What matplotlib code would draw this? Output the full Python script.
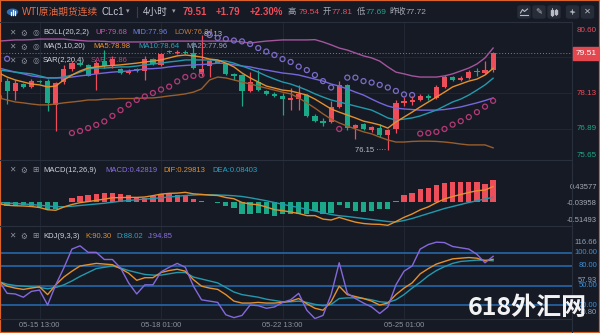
import numpy as np
import matplotlib
matplotlib.use("Agg")
import matplotlib.pyplot as plt
import matplotlib.transforms as mtransforms
from matplotlib.patches import Rectangle, FancyBboxPatch, Circle, FancyArrowPatch

plt.rcParams["font.family"] = ["Liberation Sans", "DejaVu Sans", "Noto Sans CJK SC"]
plt.rcParams["font.size"] = 5.5

# WTI continuous, 4h candles (oldest first)
opens = [78.90, 78.54, 78.20, 78.44, 78.34, 78.55, 78.54, 77.72, 78.50, 78.95,
         79.15, 79.10, 78.80, 79.25, 79.06, 78.95, 78.82, 78.95, 78.88, 79.30,
         79.10, 79.57, 79.50, 79.56, 79.50, 78.80, 79.06, 79.22, 79.12, 78.78,
         78.75, 78.20, 78.50, 78.20, 78.10, 78.03, 77.90, 77.93, 78.06, 77.34,
         77.15, 77.13, 77.65, 78.41, 76.93, 77.06, 76.86, 76.93, 76.68, 76.88,
         77.79, 77.83, 77.89, 78.03, 77.96, 78.34, 78.68, 78.58, 78.65, 78.88,
         78.82, 78.92]
highs = [78.95, 78.65, 78.58, 78.48, 78.62, 78.58, 78.60, 78.50, 79.10, 79.25,
         79.27, 79.14, 79.22, 79.62, 79.40, 79.00, 78.95, 79.00, 79.40, 79.35,
         79.50, 79.62, 79.60, 79.62, 79.90, 80.13, 79.30, 79.27, 79.18, 78.82,
         78.80, 78.85, 78.92, 78.25, 78.15, 78.13, 78.30, 78.40, 78.10, 77.40,
         77.27, 77.85, 78.54, 78.45, 77.05, 77.10, 77.00, 77.06, 76.90, 77.89,
         78.00, 78.03, 78.10, 78.10, 78.40, 78.75, 78.72, 78.72, 78.92, 79.00,
         79.23, 79.54]
lows = [78.40, 77.75, 77.89, 78.30, 78.30, 78.48, 77.51, 76.82, 78.45, 78.90,
        79.05, 78.70, 78.23, 79.00, 79.00, 78.78, 78.78, 78.85, 78.58, 79.10,
        79.05, 79.50, 79.48, 79.48, 78.95, 78.70, 78.68, 79.15, 78.76, 78.58,
        77.68, 78.15, 78.20, 78.05, 77.98, 77.37, 77.54, 77.54, 77.30, 77.12,
        77.00, 77.08, 77.60, 76.85, 76.54, 76.85, 76.80, 76.62, 76.15, 76.75,
        77.68, 77.70, 77.85, 77.90, 77.92, 78.30, 78.55, 78.55, 78.60, 78.72,
        78.78, 78.85]
closes = [78.50, 78.20, 78.47, 78.34, 78.54, 78.52, 77.79, 78.47, 78.95, 79.18,
          79.10, 78.72, 79.18, 79.06, 79.30, 78.82, 78.90, 78.88, 79.30, 79.13,
          79.47, 79.53, 79.56, 79.50, 79.00, 78.95, 79.23, 79.18, 78.78, 78.72,
          78.20, 78.50, 78.25, 78.10, 78.03, 77.93, 77.97, 78.10, 77.34, 77.17,
          77.10, 77.65, 78.41, 76.92, 77.03, 76.90, 76.96, 76.68, 76.85, 77.79,
          77.86, 77.90, 78.03, 77.96, 78.34, 78.68, 78.58, 78.65, 78.85, 78.84,
          78.92, 79.51]
prev_close = 77.72

# BOLL(20,2,2) bands; the middle band is also the MA20
boll_up = [79.92, 79.94, 79.96, 79.96, 79.97, 79.99, 79.99, 79.99, 79.99, 79.96,
           79.94, 79.92, 79.92, 79.91, 79.89, 79.89, 79.89, 79.89, 79.89, 79.89,
           79.91, 79.92, 79.92, 79.92, 79.92, 79.92, 79.92, 79.92, 79.92, 79.92,
           79.89, 79.85, 79.89, 79.92, 79.94, 79.96, 79.96, 79.96, 79.96, 79.97,
           79.89, 79.79, 79.68, 79.61, 79.51, 79.41, 79.34, 79.23, 79.03, 78.85,
           78.79, 78.72, 78.68, 78.68, 78.68, 78.72, 78.79, 78.89, 78.99, 79.13,
           79.34, 79.68]
boll_mid = [78.99, 78.92, 78.85, 78.79, 78.72, 78.68, 78.65, 78.65, 78.65, 78.68,
            78.72, 78.75, 78.79, 78.82, 78.85, 78.87, 78.89, 78.92, 78.96, 78.97,
            78.99, 79.03, 79.06, 79.08, 79.10, 79.11, 79.13, 79.16, 79.15, 79.10,
            79.06, 79.03, 78.97, 78.92, 78.87, 78.82, 78.79, 78.75, 78.68, 78.61,
            78.54, 78.44, 78.37, 78.27, 78.16, 78.06, 77.92, 77.79, 77.68, 77.61,
            77.58, 77.56, 77.54, 77.54, 77.54, 77.56, 77.60, 77.65, 77.72, 77.79,
            77.87, 77.96]
boll_low = [77.96, 77.89, 77.82, 77.79, 77.75, 77.72, 77.72, 77.75, 77.79, 77.82,
            77.85, 77.89, 77.89, 77.92, 77.92, 77.94, 77.94, 77.94, 77.96, 77.96,
            77.99, 78.03, 78.06, 78.10, 78.16, 78.27, 78.58, 78.68, 78.65, 78.58,
            78.51, 78.44, 78.37, 78.30, 78.23, 78.16, 78.10, 77.96, 77.79, 77.61,
            77.41, 77.23, 77.10, 76.99, 76.89, 76.79, 76.72, 76.61, 76.51, 76.44,
            76.44, 76.46, 76.47, 76.47, 76.46, 76.44, 76.41, 76.37, 76.34, 76.34,
            76.34, 76.24]
ma5 = [78.82, 78.68, 78.58, 78.51, 78.44, 78.41, 78.34, 78.37, 78.58, 78.75,
       78.89, 78.99, 79.03, 79.06, 79.08, 79.10, 79.13, 79.16, 79.20, 79.23,
       79.27, 79.34, 79.41, 79.44, 79.41, 79.37, 79.30, 79.27, 79.16, 79.03,
       78.82, 78.65, 78.51, 78.37, 78.30, 78.23, 78.20, 78.13, 78.06, 77.92,
       77.75, 77.58, 77.47, 77.37, 77.27, 77.16, 77.10, 77.03, 76.92, 77.13,
       77.30, 77.47, 77.65, 77.82, 77.99, 78.16, 78.34, 78.44, 78.54, 78.61,
       78.75, 78.98]
ma10 = [78.92, 78.89, 78.85, 78.82, 78.79, 78.72, 78.65, 78.65, 78.68, 78.75,
        78.85, 78.96, 78.99, 78.99, 79.01, 79.03, 79.03, 79.06, 79.10, 79.13,
        79.16, 79.20, 79.23, 79.27, 79.27, 79.27, 79.27, 79.25, 79.23, 79.16,
        79.06, 78.96, 78.85, 78.72, 78.61, 78.51, 78.44, 78.34, 78.23, 78.10,
        77.99, 77.89, 77.82, 77.75, 77.68, 77.61, 77.54, 77.41, 77.27, 77.20,
        77.23, 77.27, 77.34, 77.44, 77.54, 77.68, 77.82, 77.92, 78.06, 78.23,
        78.41, 78.64]
# SAR dots; None where no dot shows
sar = [77.99, 79.31, None, None, None, None, None, None, None, 76.75,
       76.82, 76.92, 77.03, 77.15, 77.34, 77.54, 77.73, 77.89, 78.01, 78.13,
       78.25, 78.35, 78.53, 78.68, 78.72, 78.75, 80.13, 80.03, 79.99, 79.94,
       79.91, 79.82, 79.68, 79.56, 79.44, 79.30, 79.20, 79.04, 78.92, 78.75,
       78.54, 78.32, 76.89, 78.66, 78.66, 78.54, 78.49, 78.41, 78.32, 78.20,
       78.08, 78.06, 76.73, 76.75, 76.79, 76.89, 77.04, 77.16, 77.30, 77.47,
       77.66, 77.86]

# MACD(12,26,9)
macd_hist = [-0.053, -0.087, -0.087, -0.073, -0.087, -0.100, -0.153, -0.140, -0.013, 0.067,
             0.113, 0.127, 0.147, 0.167, 0.180, 0.147, 0.127, 0.093, 0.080, 0.113,
             0.147, 0.147, 0.127, 0.127, 0.047, 0.013, -0.013, -0.020, -0.087, -0.120,
             -0.240, -0.253, -0.220, -0.253, -0.287, -0.253, -0.240, -0.240, -0.253, -0.187,
             -0.253, -0.220, -0.067, -0.133, -0.187, -0.200, -0.187, -0.153, -0.153, 0.013,
             0.127, 0.180, 0.247, 0.267, 0.333, 0.380, 0.400, 0.400, 0.400, 0.400,
             0.360, 0.42819]
macd_dif = [-0.047, -0.075, -0.085, -0.090, -0.100, -0.120, -0.165, -0.175, -0.110, -0.060,
            -0.023, -0.002, 0.023, 0.048, 0.075, 0.078, 0.083, 0.082, 0.090, 0.117,
            0.148, 0.163, 0.168, 0.183, 0.153, 0.142, 0.128, 0.120, 0.080, 0.055,
            -0.020, -0.050, -0.065, -0.110, -0.163, -0.182, -0.210, -0.240, -0.282, -0.283,
            -0.352, -0.370, -0.318, -0.367, -0.413, -0.440, -0.453, -0.457, -0.477, -0.400,
            -0.317, -0.250, -0.167, -0.107, -0.023, 0.050, 0.100, 0.140, 0.180, 0.215,
            0.230, 0.29813]
macd_dea = [-0.020, -0.030, -0.040, -0.050, -0.060, -0.075, -0.090, -0.105, -0.105, -0.095,
            -0.080, -0.065, -0.050, -0.035, -0.015, 0.005, 0.020, 0.035, 0.050, 0.060,
            0.075, 0.090, 0.105, 0.120, 0.130, 0.135, 0.135, 0.130, 0.125, 0.115,
            0.100, 0.075, 0.045, 0.015, -0.020, -0.055, -0.090, -0.120, -0.155, -0.190,
            -0.225, -0.260, -0.285, -0.300, -0.320, -0.340, -0.360, -0.380, -0.400, -0.410,
            -0.380, -0.340, -0.290, -0.240, -0.190, -0.140, -0.100, -0.060, -0.020, 0.015,
            0.050, 0.08403]

# KDJ(9,3,3)
kdj_k = [56, 49, 46, 44, 46, 48, 36, 51, 63, 72, 80, 82, 84, 83, 82, 76, 69, 58, 62, 62,
         70, 73, 75, 72, 59, 49, 46, 44, 36, 26, 23, 23, 24, 23, 23, 24, 26, 30, 22, 15,
         12, 25, 49, 36, 33, 30, 26, 20, 23, 36, 46, 54, 68, 76, 83, 87, 91, 92, 93, 92,
         88, 90.30]
kdj_d = [56, 52, 50, 49, 48, 47, 45, 47, 51, 57, 64, 70, 76, 78, 80, 77, 73, 70, 67, 66,
         66, 68, 70, 70, 63, 60, 57, 54, 47, 40, 36, 34, 32, 29, 27, 25, 25, 26, 24, 21,
         19, 21, 30, 31, 31, 30, 28, 25, 24, 28, 36, 46, 55, 65, 73, 79, 84, 87, 88, 89,
         89, 88.02]
kdj_j = [57, 38, 37, 32, 41, 43, 20, 51, 77, 106, 111, 101, 101, 90, 90, 77, 54, 37, 51, 51,
         71, 78, 84, 78, 49, 28, 26, 24, 5, 0.6, 4, 20, 19, 15, 17, 24, 28, 38, 12, -0.80,
         4, 36, 85, 38, 30, 23, 17, 7, 17, 51, 72, 80, 106, 113, 116.66, 116, 110, 108, 106, 98,
         85, 94.85]
kdj_levels = [100, 80, 50, 20]

date_idx = [5, 20, 35, 50]
date_labels = ["05-15 13:00", "05-18 01:00", "05-22 13:00", "05-25 01:00"]
price_ticks = [80.60, 79.37, 78.13, 76.89, 75.65]
macd_ticks = ["0.43577", "-0.03958", "-0.51493"]

BG = "#161a25"
GRID = "#222735"
SEP = "#2a2f3d"
TXT = "#8d929e"
LIGHT = "#cdd1da"
RED = "#ee4d5a"
GREEN = "#1ba889"
C_UP = "#a3559c"
C_MID = "#7467dc"
C_LOW = "#9a5e2c"
C_MA5 = "#e4902c"
C_MA10 = "#2399ad"
C_SAR_BELOW = "#b43a78"
C_SAR_ABOVE = "#7d6cc8"
C_J = "#8468dc"
C_LEVEL = "#2566a8"

W, H = 600, 333
AX_R = 572          # right edge of the plotting panes, px
LBL_X = 597 / AX_R  # right-aligned scale labels, in axes fraction
fig = plt.figure(figsize=(W / 100, H / 100), dpi=100, facecolor=BG)


def fx(x):
    return x / W


def fy(y):
    return 1 - y / H


def pane(top, bottom):
    a = fig.add_axes([0, fy(bottom), AX_R / W, (bottom - top) / H])
    a.set_facecolor(BG)
    for s in a.spines.values():
        s.set_visible(False)
    a.tick_params(left=False, bottom=False, labelleft=False, labelbottom=False)
    return a


ax = pane(22, 160)
ax_macd = pane(160, 226)
ax_kdj = pane(226, 319)

n = len(closes)
idx = np.arange(n)
for a in (ax, ax_macd, ax_kdj):
    a.set_xlim(0.12, 70.74)
    for d in date_idx:
        a.axvline(d, color=GRID, lw=0.7, zorder=0)

# ---- price pane ----
ax.set_ylim(75.82, 80.578)
for p in price_ticks[1:4]:
    ax.axhline(p, color=GRID, lw=0.7, zorder=0)

o = np.array(opens)
c = np.array(closes)
colors = np.where(c >= o, RED, GREEN)
ax.vlines(idx, lows, highs, colors=colors, lw=0.9, zorder=3)
ax.bar(idx, np.maximum(np.abs(c - o), 0.03), bottom=np.minimum(o, c),
       width=0.64, color=colors, zorder=3)

ax.plot(idx, boll_up, color=C_UP, lw=1.0, zorder=4)
ax.plot(idx, boll_low, color=C_LOW, lw=1.0, zorder=4)
ax.plot(idx, boll_mid, color=C_MID, lw=1.0, zorder=4)
ax.plot(idx, ma10, color=C_MA10, lw=1.0, zorder=4)
ax.plot(idx, ma5, color=C_MA5, lw=1.0, zorder=4)

sar_a = np.array([np.nan if v is None else v for v in sar])
shown = ~np.isnan(sar_a)
above = shown & (np.nan_to_num(sar_a) > c)
below = shown & ~above
ax.scatter(idx[above], sar_a[above], s=13, facecolors="none",
           edgecolors=C_SAR_ABOVE, linewidths=0.9, zorder=5)
ax.scatter(idx[below], sar_a[below], s=13, facecolors="none",
           edgecolors=C_SAR_BELOW, linewidths=0.9, zorder=5)

# last price line + highest / lowest marks
ax.axhline(closes[-1], color=RED, lw=0.7, ls=(0, (1, 2)), zorder=2)
hi = int(np.argmax(highs))
lo = int(np.argmin(lows))
ax.text(hi + 0.25, highs[hi], f"{highs[hi]:.2f}", color="#b9bdc6",
        fontsize=5.5, va="center", ha="left", zorder=2)
ax.text(lo - 0.15, lows[lo], f"{lows[lo]:.2f} \u00b7\u00b7\u00b7\u00b7", color="#b9bdc6",
        fontsize=5.5, va="center", ha="right", zorder=2)

# right price scale
tr = mtransforms.blended_transform_factory(ax.transAxes, ax.transData)
for p in price_ticks[1:4]:
    ax.text(LBL_X, p, f"{p:.2f}", transform=tr, va="center", ha="right",
            color=RED if p > prev_close else GREEN, fontsize=5.8, clip_on=False)
ax.text(LBL_X, 0.94, f"{price_ticks[0]:.2f}", transform=ax.transAxes, va="center",
        ha="right", color=RED, fontsize=5.8, clip_on=False)
ax.text(LBL_X, 0.03, f"{price_ticks[-1]:.2f}", transform=ax.transAxes, va="center",
        ha="right", color=GREEN, fontsize=5.8, clip_on=False)

# current price tag on the scale
tag_y = fy(60)
fig.add_artist(Rectangle((fx(573), tag_y), 27 / W, 13 / H, transform=fig.transFigure,
                         color="#e5474f", zorder=5))
fig.text(fx(597), tag_y + 6.5 / H, f"{closes[-1]:.2f}", color="white", fontsize=6,
         ha="right", va="center", zorder=6)

# ---- MACD pane ----
ax_macd.set_ylim(-0.49, 0.83)
hist = np.array(macd_hist)
ax_macd.bar(idx, hist, width=0.66, color=np.where(hist >= 0, RED, GREEN), zorder=3)
ax_macd.plot(idx, macd_dea, color=C_MA10, lw=1.0, zorder=4)
ax_macd.plot(idx, macd_dif, color=C_MA5, lw=1.0, zorder=4)
for y, s in zip([187.5, 203.5, 220.5], macd_ticks):
    ax_macd.text(LBL_X, (226 - y) / 66, s, transform=ax_macd.transAxes, va="center",
                 ha="right", color="#a4a9b4", fontsize=5.5, clip_on=False)

# ---- KDJ pane ----
ax_kdj.set_ylim(-1.5, 141.5)
for lv in kdj_levels:
    ax_kdj.axhline(lv, color=C_LEVEL, lw=1.2, zorder=2)
ax_kdj.plot(idx, kdj_d, color=C_MA10, lw=1.0, zorder=4)
ax_kdj.plot(idx, kdj_k, color=C_MA5, lw=1.0, zorder=4)
ax_kdj.plot(idx, kdj_j, color=C_J, lw=1.0, zorder=4)
jmax, jmin = max(kdj_j), min(kdj_j)
trk = mtransforms.blended_transform_factory(ax_kdj.transAxes, ax_kdj.transData)
kdj_marks = [(jmax, "#8fa0b8"), (100, "#3b8fd9"), (80, "#3b8fd9"),
             ((jmax + jmin) / 2, "#8fa0b8"), (50, "#3b8fd9"), (20, "#3b8fd9"),
             (jmin, "#8fa0b8")]
for v, col in kdj_marks:
    ax_kdj.text(LBL_X, max(v, 8), f"{v:.2f}", transform=trk, va="center", ha="right",
                color=col, fontsize=5.5, clip_on=False)

ax_kdj.tick_params(labelbottom=True, length=0, pad=2.5, labelsize=5.5, labelcolor=TXT)
ax_kdj.set_xticks(date_idx)
ax_kdj.set_xticklabels(date_labels)


# ---- indicator headers (drawn under the candles) ----
def header(a, y, name, parts, third="\u25ce"):
    kw = dict(transform=fig.transFigure, va="center", zorder=1, fontsize=5.5)
    a.text(fx(12), fy(y), "\u2715", color=TXT, ha="center", **kw)
    a.text(fx(23.5), fy(y), "\u2699", color=TXT, ha="center", family="DejaVu Sans", **kw)
    a.text(fx(35.5), fy(y), third, color=TXT, ha="center", family="DejaVu Sans", **kw)
    a.text(fx(43), fy(y), name, color=LIGHT, ha="left", **kw)
    for x, s, col in parts:
        a.text(fx(x), fy(y), s, color=col, ha="left", **kw)


header(ax, 33, "BOLL(20,2,2)", [(95, f"UP:{boll_up[-1]:.2f}", "#c35bb0"),
                                (132, f"MID:{boll_mid[-1]:.2f}", "#6f7ee0"),
                                (174, f"LOW:{boll_low[-1]:.2f}", "#c7793a")])
header(ax, 47, "MA(5,10,20)", [(93, f"MA5:{ma5[-1]:.2f}", "#ee9630"),
                               (138, f"MA10:{ma10[-1]:.2f}", "#2aa5b8"),
                               (186, f"MA20:{boll_mid[-1]:.2f}", "#9ea4c8")])
header(ax, 61, "SAR(2,20,4)", [(91, f"SAR:{sar[-1]:.2f}", "#c2407f")])
header(ax_macd, 170, "MACD(12,26,9)", [(105, f"MACD:{macd_hist[-1]:.5f}", "#8a6fe0"),
                                        (163, f"DIF:{macd_dif[-1]:.5f}", "#e0902e"),
                                        (212, f"DEA:{macd_dea[-1]:.5f}", "#2aa3c4")],
       third="\u229e")
header(ax_kdj, 236, "KDJ(9,3,3)", [(85, f"K:{kdj_k[-1]:.2f}", "#e0902e"),
                                   (116, f"D:{kdj_d[-1]:.2f}", "#2aa3c4"),
                                   (148, f"J:{kdj_j[-1]:.2f}", "#8a6fe0")], third="\u229e")

# pane separators
for y in (22, 160, 226, 319):
    fig.add_artist(plt.Line2D([0, fx(AX_R)], [fy(y), fy(y)], color=SEP, lw=0.8,
                              transform=fig.transFigure))
fig.add_artist(plt.Line2D([fx(AX_R), fx(AX_R)], [fy(22), fy(333)], color=SEP, lw=0.8,
                          transform=fig.transFigure))

# ---- top bar ----
fig.add_artist(Circle((fx(12.5), fy(12)), 5 / W, transform=fig.transFigure,
                      color="#2f6db5"))
for dx, h in [(-2, 3), (0, 5), (2, 4)]:
    fig.add_artist(plt.Line2D([fx(12.5 + dx)] * 2, [fy(14.5), fy(14.5 - h)], color="white",
                              lw=0.9, transform=fig.transFigure))
top = dict(va="center", fontsize=7)
fig.text(fx(22), fy(12), "WTI原油期货连续", color="#ec6d42", **top)
fig.text(fx(101), fy(12), "CLc1", color="#c5c9d2", **top)
fig.text(fx(126), fy(12), "\u25be", color="#9a9fab", fontsize=5, va="center")
fig.add_artist(plt.Line2D([fx(137), fx(137)], [fy(7), fy(17)], color="#3a3f4c", lw=0.8,
                          transform=fig.transFigure))
fig.text(fx(143), fy(12), "4小时", color="#c5c9d2", **top)
fig.text(fx(172), fy(12), "\u25be", color="#9a9fab", fontsize=5, va="center")
fig.text(fx(183), fy(12), f"{closes[-1]:.2f}", color=RED, fontweight="bold", **top)
fig.text(fx(216), fy(12), "+1.79", color=RED, fontweight="bold", **top)
fig.text(fx(250), fy(12), "+2.30%", color=RED, fontweight="bold", **top)
small = dict(va="center", fontsize=6)
for x, s, col in [(288, "高", "#a3a8b3"), (299, f"{highs[-1]:.2f}", RED),
                  (323, "开", "#a3a8b3"), (332, "77.81", RED),
                  (357, "低", "#a3a8b3"), (366, "77.69", GREEN),
                  (389, "昨收", "#a3a8b3"), (406, f"{prev_close:.2f}", "#a3a8b3")]:
    fig.text(fx(x), fy(12), s, color=col, **small)

# toolbar buttons
ICON = "#b8bcc6"
for cx in (524, 539, 554, 572.5, 587.5):
    fig.add_artist(FancyBboxPatch((fx(cx - 6), fy(18)), 12 / W, 12 / H,
                                  boxstyle="round,pad=0,rounding_size=0.004",
                                  transform=fig.transFigure, color="#272c39"))


def icon_line(xs, ys, lw=0.8):
    fig.add_artist(plt.Line2D([fx(v) for v in xs], [fy(v) for v in ys], color=ICON,
                              lw=lw, transform=fig.transFigure))


# chart-type icon: small line over a base
icon_line([520.5, 522.5, 524.5, 527.5], [13, 9.5, 11.5, 9])
icon_line([520, 528], [15, 15])
fig.text(fx(539), fy(12), "\u270e", color=ICON, fontsize=6, ha="center", va="center",
         family="DejaVu Sans")
# candles icon
icon_line([552, 552], [8, 16], lw=0.6)
icon_line([556, 556], [9, 15], lw=0.6)
fig.add_artist(Rectangle((fx(551), fy(14.5)), 2 / W, 5 / H, transform=fig.transFigure,
                         color=ICON))
fig.add_artist(Rectangle((fx(555), fy(13.5)), 2 / W, 3.5 / H, transform=fig.transFigure,
                         color=ICON))
# expand icon
fig.add_artist(FancyArrowPatch((fx(569.5), fy(15)), (fx(575.5), fy(9)),
                               transform=fig.transFigure,
                               arrowstyle="<->,head_length=1.6,head_width=1.2",
                               color=ICON, lw=0.7, mutation_scale=1))
fig.text(fx(587.5), fy(12), "\u2715", color=ICON, fontsize=6, ha="center", va="center")

# watermark
fig.text(fx(527), fy(308), "618外汇网", color="white", fontsize=18, fontweight="bold",
         ha="center", va="center", family=["Noto Sans CJK SC"], alpha=0.95)

# frame
fig.add_artist(Rectangle((0, 0), 1, 1, transform=fig.transFigure, fill=False,
                         ec="#d9622b", lw=1.6))

fig.savefig("out.png", dpi=100, facecolor=BG)
